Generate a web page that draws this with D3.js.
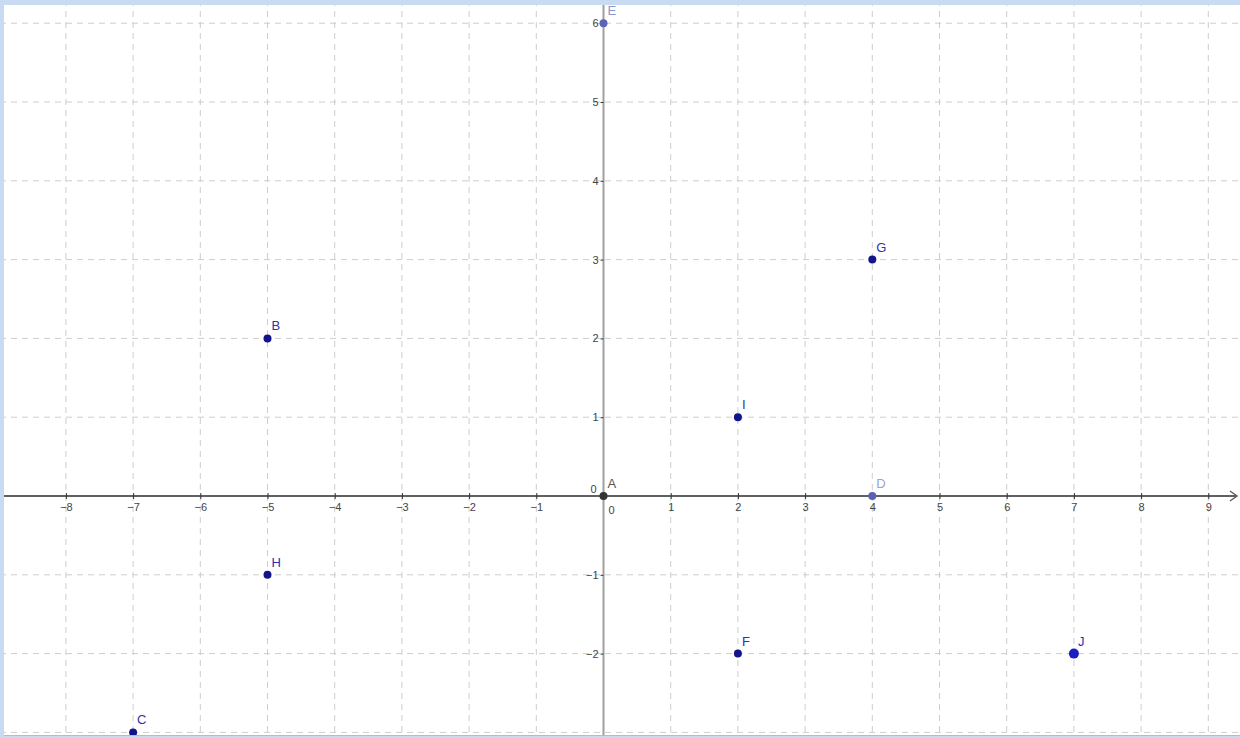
<!DOCTYPE html>
<html>
<head>
<meta charset="utf-8">
<script src="https://cdn.jsdelivr.net/npm/d3@7"></script>
<style>
  body { margin: 0; background: #fff; }
  svg { display: block; font-family: "Liberation Sans", Arial, sans-serif; }
</style>
</head>
<body>
<div id="plot"></div>
<script>
// Points of the figure
const pointNames = ["A", "B", "C", "D", "E", "F", "G", "H", "I", "J"];
const pointX = [0, -5, -7, 4, 0, 2, 4, -5, 2, 7];
const pointY = [0, 2, -3, 0, 6, -2, 3, -1, 1, -2];

// Tick labels
const xTicks = [-8, -7, -6, -5, -4, -3, -2, -1, 0, 1, 2, 3, 4, 5, 6, 7, 8, 9];
const yTicks = [-2, -1, 0, 1, 2, 3, 4, 5, 6];

const W = 1240, H = 738;
const ox = 603.5, oy = 496, ux = 67.2, uy = 78.8;

const svg = d3.select("#plot")
  .append("svg")
  .attr("width", W)
  .attr("height", H);

const x = d3.scaleLinear().domain([-9, 9.5]).range([ox - 9 * ux, ox + 9.5 * ux]);
const y = d3.scaleLinear().domain([-3, 6.3]).range([oy + 3 * uy, oy - 6.3 * uy]);

// Dashed grid
const gridX = d3.range(-8, 10);
const gridY = d3.range(-3, 7);
svg.append("g").selectAll("line")
  .data(gridX.filter(d => d !== 0))
  .enter().append("line")
  .attr("x1", d => x(d)).attr("x2", d => x(d))
  .attr("y1", 0).attr("y2", H)
  .attr("stroke", "#cdcdcd")
  .attr("stroke-dasharray", "6,5");
svg.append("g").selectAll("line")
  .data(gridY.filter(d => d !== 0))
  .enter().append("line")
  .attr("x1", 0).attr("x2", W)
  .attr("y1", d => y(d)).attr("y2", d => y(d))
  .attr("stroke", "#cdcdcd")
  .attr("stroke-dasharray", "6,5");

// y axis line
svg.append("line")
  .attr("x1", x(0)).attr("x2", x(0))
  .attr("y1", 0).attr("y2", H)
  .attr("stroke", "#a0a0a0")
  .attr("stroke-width", 2);

// x axis with arrow
svg.append("line")
  .attr("x1", 0).attr("x2", W - 4)
  .attr("y1", y(0)).attr("y2", y(0))
  .attr("stroke", "#606060")
  .attr("stroke-width", 2);
svg.append("path")
  .attr("d", `M${W - 10},${y(0) - 5} L${W - 3},${y(0)} L${W - 10},${y(0) + 5}`)
  .attr("fill", "none")
  .attr("stroke", "#606060")
  .attr("stroke-width", 1.5);

// x axis ticks and labels
const xAxis = svg.append("g")
  .attr("transform", `translate(0, ${y(0)})`)
  .call(d3.axisBottom(x).tickValues(xTicks.filter(d => d !== 0)).tickSize(3).tickFormat(d3.format("d")));
xAxis.select(".domain").remove();
xAxis.selectAll(".tick line").attr("stroke", "#333").attr("y1", -3).attr("y2", 3);
xAxis.selectAll("text").attr("fill", "#444").style("font-size", "11px").attr("dy", "0.85em");

// y axis ticks and labels
const yAxis = svg.append("g")
  .attr("transform", `translate(${x(0)}, 0)`)
  .call(d3.axisLeft(y).tickValues(yTicks.filter(d => d !== 0)).tickSize(3).tickFormat(d3.format("d")));
yAxis.select(".domain").remove();
yAxis.selectAll(".tick line").attr("stroke", "#333");
yAxis.selectAll("text").attr("fill", "#444").style("font-size", "11px").attr("x", -5);

// origin labels
svg.append("text").attr("x", x(0) - 7).attr("y", y(0) - 3)
  .attr("text-anchor", "end").attr("fill", "#444").style("font-size", "11px").text("0");
svg.append("text").attr("x", x(0) + 8).attr("y", y(0) + 18)
  .attr("text-anchor", "middle").attr("fill", "#444").style("font-size", "11px").text("0");

// Points
const pts = pointNames.map((n, i) => ({ name: n, x: pointX[i], y: pointY[i] }));
const fillOf = { A: "#333333", D: "#5b60b4", E: "#5b63b8", J: "#1c1cc0" };
const labelOf = { A: "#555", D: "#9aa4d0", E: "#8c95cc" };

const g = svg.append("g");
g.selectAll("circle")
  .data(pts)
  .enter().append("circle")
  .attr("cx", d => x(d.x))
  .attr("cy", d => y(d.y))
  .attr("r", d => d.name === "J" ? 5 : 4)
  .attr("fill", d => fillOf[d.name] || "#14148a");

g.selectAll("text")
  .data(pts)
  .enter().append("text")
  .attr("x", d => x(d.x) + 4)
  .attr("y", d => y(d.y) - 8)
  .attr("fill", d => labelOf[d.name] || "#3030b0")
  .style("font-size", "13px")
  .text(d => d.name);

// window frame
svg.append("rect").attr("x", 0).attr("y", 0).attr("width", W).attr("height", 5).attr("fill", "#c9dbf2");
svg.append("rect").attr("x", 0).attr("y", 0).attr("width", 4).attr("height", H).attr("fill", "#c9dbf2");
svg.append("rect").attr("x", 0).attr("y", H - 2).attr("width", W).attr("height", 2).attr("fill", "#c9dbf2");
svg.append("line").attr("x1", 4).attr("x2", W).attr("y1", H - 2.5).attr("y2", H - 2.5).attr("stroke", "#bbb");
</script>
</body>
</html>
